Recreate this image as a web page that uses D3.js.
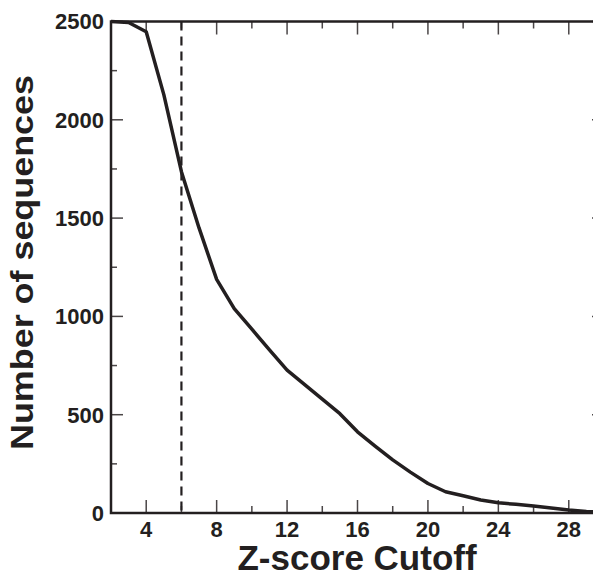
<!DOCTYPE html>
<html>
<head>
<meta charset="utf-8">
<script src="https://cdn.jsdelivr.net/npm/d3@7"></script>
<style>
    body { margin: 0; background: #fff; }
    svg { display: block; }
    text { font-family: "Liberation Sans", Arial, Helvetica, sans-serif; font-weight: bold; fill: #231f20; }
</style>
</head>
<body>
<div id="chart"></div>
<script>
// Z-score cutoff vs number of sequences
const zCutoff = [2, 3, 4, 5, 6, 7, 8, 9, 10, 11, 12, 13, 14, 15, 16, 17, 18, 19, 20,
    21, 22, 23, 24, 25, 26, 27, 28, 29, 30];
const seqCount = [2500, 2495, 2448, 2128, 1736, 1450, 1188, 1040, 935, 830, 727, 653, 579, 505,
    413, 340, 270, 208, 150, 108, 88, 66, 52, 44, 36, 25, 15, 8, 5];
const xMajorTicks = [4, 8, 12, 16, 20, 24, 28];
const xMinorTicks = [2, 6, 10, 14, 18, 22, 26, 30];
const yMajorTicks = [0, 500, 1000, 1500, 2000, 2500];
const yMinorTicks = [250, 750, 1250, 1750, 2250];
const cutoffMark = 6;

const width = 593, height = 572;
const margin = { top: 21.5, right: -11, bottom: 59, left: 111 };
const ink = '#231f20';

const svg = d3.select('#chart').append('svg')
    .attr('width', width)
    .attr('height', height);

const x = d3.scaleLinear().domain([2, 30]).range([margin.left, width - margin.right]);
const y = d3.scaleLinear().domain([0, 2500]).range([height - margin.bottom, margin.top]);

// Ticks (inward on all four sides)
function ticks(axis, values, size) {
    const g = svg.append('g').attr('class', 'ticks');
    if (axis === 'x') {
        g.selectAll('line.b').data(values).enter().append('line')
            .attr('x1', d => x(d)).attr('x2', d => x(d))
            .attr('y1', y(0)).attr('y2', y(0) - size);
        g.selectAll('line.t').data(values).enter().append('line')
            .attr('x1', d => x(d)).attr('x2', d => x(d))
            .attr('y1', y(2500)).attr('y2', y(2500) + size);
    } else {
        g.selectAll('line.l').data(values).enter().append('line')
            .attr('x1', x(2)).attr('x2', x(2) + size)
            .attr('y1', d => y(d)).attr('y2', d => y(d));
        g.selectAll('line.r').data(values).enter().append('line')
            .attr('x1', x(30)).attr('x2', x(30) - size)
            .attr('y1', d => y(d)).attr('y2', d => y(d));
    }
    g.selectAll('line').attr('stroke', '#4a4647').attr('stroke-width', 1.5);
}
ticks('x', xMajorTicks, 13);
ticks('x', xMinorTicks, 7);
ticks('y', yMajorTicks, 12);
ticks('y', yMinorTicks, 6);

// Dashed cutoff line
svg.append('line')
    .attr('x1', x(cutoffMark)).attr('x2', x(cutoffMark))
    .attr('y1', y(2500)).attr('y2', y(0))
    .attr('stroke', ink)
    .attr('stroke-width', 2.2)
    .attr('stroke-dasharray', '9,6');

// Data line
const line = d3.line().x((d, i) => x(zCutoff[i])).y(d => y(d));
svg.append('path')
    .datum(seqCount)
    .attr('d', line)
    .attr('fill', 'none')
    .attr('stroke', ink)
    .attr('stroke-width', 3.5)
    .attr('stroke-linejoin', 'round');

// Frame
svg.append('rect')
    .attr('x', x(2)).attr('y', y(2500))
    .attr('width', x(30) - x(2)).attr('height', y(0) - y(2500))
    .attr('fill', 'none')
    .attr('stroke', ink)
    .attr('stroke-width', 2.5);

// Tick labels
svg.append('g').selectAll('text').data(xMajorTicks).enter().append('text')
    .attr('x', d => x(d))
    .attr('y', 537)
    .attr('text-anchor', 'middle')
    .attr('font-size', 22)
    .text(d => d);

svg.append('g').selectAll('text').data(yMajorTicks).enter().append('text')
    .attr('x', 104)
    .attr('y', d => y(d))
    .attr('dy', '0.36em')
    .attr('text-anchor', 'end')
    .attr('font-size', 22)
    .text(d => d);

// Axis titles
svg.append('text')
    .attr('x', 357)
    .attr('y', 570)
    .attr('text-anchor', 'middle')
    .attr('font-size', 35)
    .text('Z-score Cutoff');

svg.append('text')
    .attr('transform', 'translate(33,262.5) rotate(-90)')
    .attr('text-anchor', 'middle')
    .attr('font-size', 31)
    .attr('textLength', 375)
    .attr('lengthAdjust', 'spacingAndGlyphs')
    .text('Number of sequences');
</script>
</body>
</html>
